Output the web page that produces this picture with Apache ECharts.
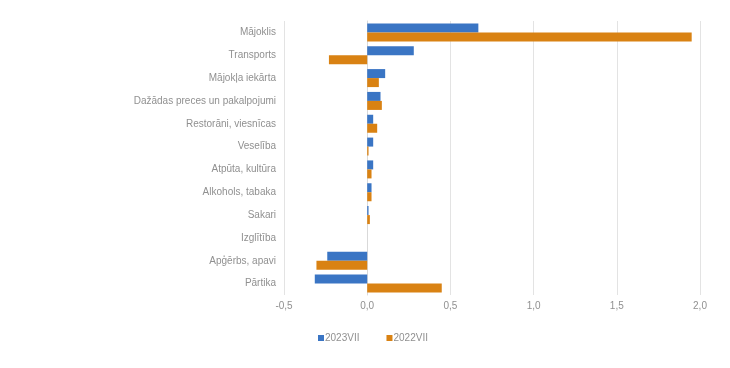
<!DOCTYPE html>
<html><head><meta charset="utf-8">
<script src="https://cdn.jsdelivr.net/npm/echarts@6/dist/echarts.min.js"></script>
<style>html,body{margin:0;padding:0;background:#fff}#c{width:730px;height:368px}</style>
</head><body><div id="c"></div>
<script>
const categories = ["Pārtika","Apģērbs, apavi","Izglītība","Sakari","Alkohols, tabaka","Atpūta, kultūra","Veselība","Restorāni, viesnīcas","Dažādas preces un pakalpojumi","Mājokļa iekārta","Transports","Mājoklis"];
const series2023 = [-0.315,-0.24,0,0.008,0.026,0.036,0.036,0.036,0.08,0.108,0.28,0.668];
const series2022 = [0.448,-0.305,0,0.016,0.026,0.026,0.008,0.06,0.088,0.07,-0.23,1.95];
const xTicks = {min:-0.5,max:2.0,interval:0.5};
const chart = echarts.init(document.getElementById('c'));
const txt = '#909090';
chart.setOption({
  animation:false,
  textStyle:{fontFamily:'Liberation Sans, Arial, sans-serif'},
  grid:{left:284,right:30,top:21,bottom:73,containLabel:false},
  legend:{bottom:20,left:313,itemWidth:6,itemHeight:6,itemGap:27,icon:'rect',
    textStyle:{color:txt,fontSize:10,padding:[0,0,0,-4]},
    data:['2023VII','2022VII']},
  xAxis:{type:'value',min:xTicks.min,max:xTicks.max,interval:xTicks.interval,
    axisLabel:{color:txt,fontSize:10,margin:6,formatter:v=>v.toFixed(1).replace('.',',')},
    axisLine:{show:false},axisTick:{show:false},
    splitLine:{show:true,lineStyle:{color:'#e3e3e3',width:1}}},
  yAxis:{type:'category',data:categories,
    axisLabel:{color:txt,fontSize:10,margin:8,align:'right'},
    axisLine:{show:true,onZero:true,lineStyle:{color:'#d9d9d9'}},axisTick:{show:false}},
  series:[
    {name:'2023VII',type:'bar',data:series2023,barWidth:9,barGap:'0%',itemStyle:{color:'#3a75c4'}},
    {name:'2022VII',type:'bar',data:series2022,barWidth:9,barGap:'0%',itemStyle:{color:'#d98213'}}
  ]
});
</script></body></html>
